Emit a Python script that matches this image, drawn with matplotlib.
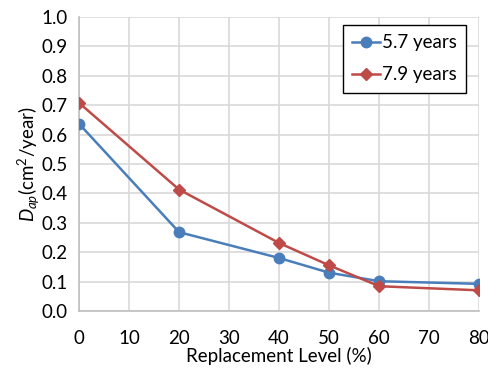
import matplotlib.pyplot as plt

# data
level = [0, 20, 40, 50, 60, 80]
dap_57 = [0.637, 0.268, 0.180, 0.130, 0.101, 0.092]
dap_79 = [0.708, 0.413, 0.231, 0.155, 0.084, 0.070]
x_ticks = [0, 10, 20, 30, 40, 50, 60, 70, 80]
y_ticks = [0.0, 0.1, 0.2, 0.3, 0.4, 0.5, 0.6, 0.7, 0.8, 0.9, 1.0]

plt.rcParams['font.family'] = ['Lato', 'DejaVu Sans']
plt.rcParams['mathtext.fontset'] = 'custom'
plt.rcParams['mathtext.rm'] = 'Lato'
plt.rcParams['mathtext.it'] = 'Lato:italic'

fig = plt.figure(figsize=(4.89, 3.71), dpi=100)
ax = fig.add_axes([0.1616, 0.162, 0.8184, 0.792])

ax.plot(level, dap_57, color='#4A7EBB', marker='o', markersize=7.5, linewidth=1.8,
        label='5.7 years', zorder=3)
ax.plot(level, dap_79, color='#BE4B48', marker='D', markersize=6.5, linewidth=1.8,
        label='7.9 years', zorder=3)

ax.set_xlim(0, 80)
ax.set_ylim(0, 1.0)
ax.set_xticks(x_ticks)
ax.set_yticks(y_ticks)
ax.set_yticklabels(['%.1f' % v for v in y_ticks])
ax.tick_params(labelsize=13.5, length=0, colors='black')
ax.tick_params(axis='x', pad=14)
ax.tick_params(axis='y', pad=8)
ax.grid(True, color='#D9D9D9', linewidth=1.2)
ax.set_axisbelow(True)
for s in ['top', 'right']:
    ax.spines[s].set_visible(False)
for s in ['left', 'bottom']:
    ax.spines[s].set_color('#BFBFBF')
    ax.spines[s].set_linewidth(1.2)

ax.set_xlabel('Replacement Level (%)', fontsize=13.5, labelpad=0)
ax.set_ylabel(r'$D_{ap}$(cm$^2$/year)', fontsize=13.5, labelpad=0)

leg = ax.legend(loc='upper right', bbox_to_anchor=(0.9675, 0.973), fontsize=13.5,
                frameon=True, fancybox=False, edgecolor='black', framealpha=1,
                handlelength=1.5, borderpad=0.5, labelspacing=0.8, handletextpad=0.1,
                borderaxespad=0)
leg.get_frame().set_linewidth(1.0)

fig.savefig('out.png', dpi=100)
